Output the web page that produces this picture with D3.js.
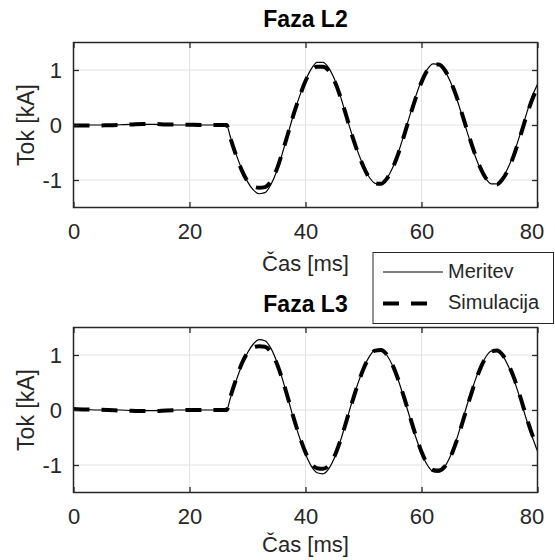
<!DOCTYPE html>
<html>
<head>
<meta charset="utf-8">
<script src="https://cdn.jsdelivr.net/npm/d3@7"></script>
<style>
  html, body { margin: 0; padding: 0; background: #fff; }
  svg, svg text { font-family: "Liberation Sans", Arial, sans-serif; }
  svg { display: block; }
</style>
</head>
<body>
<svg id="chart" width="555" height="560"></svg>
<script>
// Sample times [ms], shared by all four traces
const timeMs = [0, 2, 4, 6, 8, 10, 12, 14, 16, 18, 20, 22, 24, 26, 26.4,
  27, 28, 29, 30, 31, 32, 33, 34, 35, 36, 37, 38, 39, 40, 41, 42, 43, 44, 45, 46, 47,
  48, 49, 50, 51, 52, 53, 54, 55, 56, 57, 58, 59, 60, 61, 62, 63, 64, 65, 66, 67,
  68, 69, 70, 71, 72, 73, 74, 75, 76, 77, 78, 79, 80];

// Phase L2 current [kA]
const l2Meritev = [0, 0, 0, 0, 0.005, 0.01, 0.01, 0.01, 0.005, 0, 0, 0, 0, 0, 0,
  -0.20, -0.52, -0.80, -1.03, -1.18, -1.25, -1.23, -1.09, -0.85, -0.52, -0.15,
  0.21, 0.53, 0.81, 1.02, 1.14, 1.14, 1.04, 0.83, 0.53, 0.18,
  -0.17, -0.48, -0.75, -0.95, -1.06, -1.07, -0.97, -0.78, -0.50, -0.17,
  0.18, 0.52, 0.81, 1.01, 1.11, 1.10, 0.99, 0.78, 0.50, 0.17,
  -0.17, -0.49, -0.76, -0.96, -1.07, -1.07, -0.96, -0.76, -0.49, -0.17,
  0.17, 0.50, 0.74];
const l2Simulacija = [-0.01, -0.01, -0.01, -0.005, 0, 0.01, 0.02, 0.02, 0.01, 0.01, 0.005, 0, 0, 0, 0,
  -0.22, -0.54, -0.82, -1.02, -1.12, -1.14, -1.13, -1.03, -0.82, -0.50, -0.15,
  0.21, 0.52, 0.80, 0.98, 1.06, 1.06, 0.99, 0.80, 0.52, 0.18,
  -0.18, -0.49, -0.76, -0.96, -1.06, -1.07, -0.98, -0.79, -0.52, -0.19,
  0.16, 0.49, 0.78, 0.99, 1.09, 1.10, 1.00, 0.80, 0.53, 0.20,
  -0.14, -0.46, -0.74, -0.95, -1.06, -1.08, -0.98, -0.80, -0.53, -0.21,
  0.13, 0.44, 0.68];

// Phase L3 current [kA]
const l3Meritev = [0.01, 0.01, 0, 0, 0, -0.01, -0.01, -0.01, -0.01, 0, 0, 0, 0, 0, 0,
  0.20, 0.52, 0.81, 1.04, 1.20, 1.28, 1.26, 1.13, 0.89, 0.57, 0.20,
  -0.18, -0.51, -0.80, -1.02, -1.14, -1.16, -1.07, -0.87, -0.57, -0.22,
  0.14, 0.47, 0.76, 0.97, 1.09, 1.10, 1.00, 0.81, 0.54, 0.21,
  -0.14, -0.49, -0.78, -1.00, -1.12, -1.13, -1.03, -0.83, -0.55, -0.21,
  0.14, 0.46, 0.75, 0.95, 1.07, 1.08, 0.99, 0.79, 0.53, 0.21,
  -0.14, -0.46, -0.75];
const l3Simulacija = [0.02, 0.01, 0.005, 0, -0.01, -0.015, -0.02, -0.02, -0.01, -0.005, 0, 0, 0, 0, 0,
  0.22, 0.55, 0.84, 1.04, 1.14, 1.16, 1.15, 1.06, 0.86, 0.56, 0.21,
  -0.16, -0.49, -0.77, -0.97, -1.06, -1.07, -1.01, -0.84, -0.56, -0.22,
  0.13, 0.46, 0.75, 0.96, 1.08, 1.09, 1.01, 0.82, 0.55, 0.23,
  -0.12, -0.46, -0.76, -0.98, -1.09, -1.10, -1.03, -0.85, -0.58, -0.25,
  0.10, 0.43, 0.72, 0.94, 1.06, 1.08, 1.00, 0.82, 0.57, 0.25,
  -0.10, -0.42, -0.68];

const xTicks = [0, 20, 40, 60, 80];
const yTicks = [-1, 0, 1];
const panelTitles = ["Faza L2", "Faza L3"];
const xLabel = "Čas [ms]";
const yLabel = "Tok [kA]";
const seriesNames = ["Meritev", "Simulacija"];

const svg = d3.select("#chart");
const axisColor = "#262626";
const gridColor = "#e3e3e3";
const left = 73.5, right = 537.5;
const tickFont = 22, labelFont = 22, legendFont = 20, titleFont = 23;

const x = d3.scaleLinear().domain([0, 80]).range([left, right]);

function drawPanel(top, title, meas, sim, clipId, xLabelGap) {
  const bottom = top + 165;
  const y = d3.scaleLinear().domain([-1.5, 1.5]).range([bottom, top]);
  const g = svg.append("g");

  // grid
  g.append("g").selectAll("line").data(xTicks.slice(1, -1)).join("line")
    .attr("x1", d => x(d)).attr("x2", d => x(d))
    .attr("y1", top).attr("y2", bottom)
    .attr("stroke", gridColor).attr("stroke-width", 1);
  g.append("g").selectAll("line").data(yTicks).join("line")
    .attr("x1", left).attr("x2", right)
    .attr("y1", d => y(d)).attr("y2", d => y(d))
    .attr("stroke", gridColor).attr("stroke-width", 1);

  // traces: measurement (thin solid), simulation (thick dashed) on top
  g.append("clipPath").attr("id", clipId).append("rect")
    .attr("x", left).attr("y", top).attr("width", right - left).attr("height", bottom - top);
  const line = d3.line()
    .x((d, i) => x(timeMs[i]))
    .y(d => y(d))
    .curve(d3.curveMonotoneX);
  const traces = g.append("g").attr("clip-path", `url(#${clipId})`);
  traces.append("path").attr("d", line(meas))
    .attr("fill", "none").attr("stroke", "#000").attr("stroke-width", 1.2);
  traces.append("path").attr("d", line(sim))
    .attr("fill", "none").attr("stroke", "#000").attr("stroke-width", 4)
    .attr("stroke-dasharray", "16,12").attr("stroke-linecap", "butt");

  // axes with inward ticks on all four sides
  const tick = 5.5;
  const ax = g.append("g").attr("transform", `translate(0,${bottom})`)
    .call(d3.axisBottom(x).tickValues(xTicks).tickSizeInner(-tick).tickSizeOuter(0)
      .tickPadding(16).tickFormat(d => String(d)));
  const axT = g.append("g").attr("transform", `translate(0,${top})`)
    .call(d3.axisTop(x).tickValues(xTicks).tickSizeInner(-tick).tickSizeOuter(0).tickFormat(""));
  const ay = g.append("g").attr("transform", `translate(${left},0)`)
    .call(d3.axisLeft(y).tickValues(yTicks).tickSizeInner(-tick).tickSizeOuter(0)
      .tickPadding(11.5).tickFormat(d => String(d)));
  const ayR = g.append("g").attr("transform", `translate(${right},0)`)
    .call(d3.axisRight(y).tickValues(yTicks).tickSizeInner(-tick).tickSizeOuter(0).tickFormat(""));
  [ax, axT, ay, ayR].forEach(a => {
    a.attr("font-family", null).attr("font-size", null);
    a.select(".domain").remove();
    a.selectAll(".tick line").attr("stroke", axisColor).attr("stroke-width", 1.3);
    a.selectAll(".tick text").attr("fill", axisColor).attr("font-size", tickFont);
  });
  // last x label sits slightly inside the right edge
  ax.selectAll(".tick text").filter(d => d === 80).attr("dx", -6);

  // box
  g.append("rect").attr("x", left).attr("y", top)
    .attr("width", right - left).attr("height", bottom - top)
    .attr("fill", "none").attr("stroke", axisColor).attr("stroke-width", 1.5);

  // labels
  g.append("text").attr("x", (left + right) / 2).attr("y", top - 15.5)
    .attr("text-anchor", "middle").attr("font-weight", "bold").attr("font-size", titleFont)
    .attr("fill", "#000").text(title);
  g.append("text").attr("x", (left + right) / 2).attr("y", bottom + xLabelGap)
    .attr("text-anchor", "middle").attr("font-size", labelFont)
    .attr("fill", axisColor).text(xLabel);
  g.append("text").attr("transform", `translate(34,${(top + bottom) / 2}) rotate(-90)`)
    .attr("text-anchor", "middle").attr("font-size", labelFont + 1)
    .attr("fill", axisColor).text(yLabel);
}

drawPanel(42.5, panelTitles[0], l2Meritev, l2Simulacija, "clipL2", 63);
drawPanel(327.5, panelTitles[1], l3Meritev, l3Simulacija, "clipL3", 59);

// legend
const lg = svg.append("g");
lg.append("rect").attr("x", 373).attr("y", 252.5).attr("width", 180.5).attr("height", 71)
  .attr("fill", "#fff").attr("stroke", axisColor).attr("stroke-width", 1);
const rows = [
  { name: seriesNames[0], y: 272, w: 1.2, dash: null, x2: 443 },
  { name: seriesNames[1], y: 303.5, w: 4, dash: "16,12", x2: 427 }
];
rows.forEach(r => {
  const l = lg.append("line").attr("x1", 383).attr("x2", r.x2)
    .attr("y1", r.y).attr("y2", r.y)
    .attr("stroke", "#000").attr("stroke-width", r.w);
  if (r.dash) l.attr("stroke-dasharray", r.dash);
  lg.append("text").attr("x", 448).attr("y", r.y + 5.5)
    .attr("font-size", legendFont).attr("fill", axisColor).text(r.name);
});
</script>
</body>
</html>
